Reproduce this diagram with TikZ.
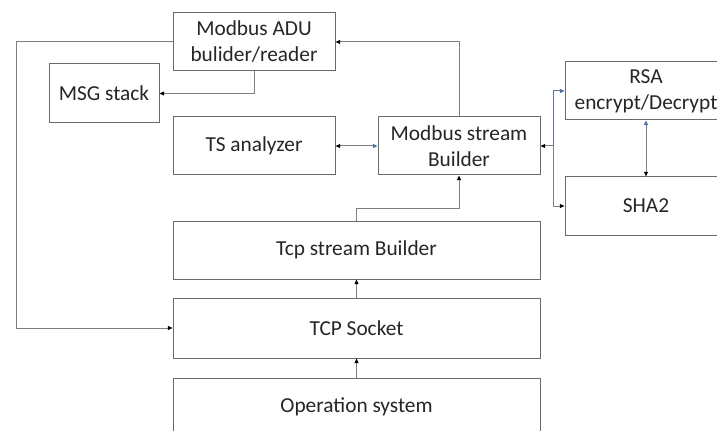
\documentclass[tikz,border=0pt]{standalone}
\usepackage{fontspec}
\setmainfont{Carlito}
\usetikzlibrary{arrows.meta}
\definecolor{edge}{HTML}{7F7F7F}
\definecolor{frame}{HTML}{6A6A6A}
\definecolor{tipblue}{HTML}{4A6FA5}
\definecolor{ink}{HTML}{262626}
\begin{document}
\begin{tikzpicture}[x=0.75pt,y=-0.75pt,
  blk/.style={draw=frame, line width=0.75pt, rectangle, minimum width=121.5pt,
    minimum height=43.5pt, align=center, inner sep=0pt, text=ink,
    font=\fontsize{16}{19.5}\selectfont},
  wide/.style={blk, minimum width=275.25pt},
  link/.style={draw=edge, line width=0.75pt},
  tipk/.style={-{Triangle[length=3.5pt,width=3pt,color=black]}},
  tipb/.style={-{Triangle[length=3.5pt,width=3pt,color=tipblue]}},
  both/.style={{Triangle[length=3.5pt,width=3pt,color=black]}-{Triangle[length=3.5pt,width=3pt,color=tipblue]}}
]
\fill[white] (0,0) rectangle (717,431);
\clip (0,0) rectangle (717,431);

% blocks
\node[blk] (adu) at (254,42) {Modbus ADU\\bulider/reader};
\node[blk, minimum width=82.5pt, minimum height=44.25pt] (msg) at (104,93.5) {MSG stack};
\node[blk] (ts) at (254,146) {TS analyzer};
\node[blk] (msb) at (459,146) {Modbus stream\\Builder};
\node[blk] (rsa) at (646,91) {RSA\\encrypt/Decrypt};
\node[blk] (sha) at (646,206) {SHA2};
\node[wide] (tcpb) at (356.5,250) {Tcp stream Builder};
\node[wide, minimum height=45pt] (sock) at (356.5,328) {TCP Socket};
\node[wide] (os) at (356.5,407) {Operation system};

% routing points
\coordinate (lx) at (16,42);
\coordinate (hub) at (553,146);

% connectors
\draw[link, tipk] (adu.west) -- (lx) |- (sock.west);
\draw[link, tipk] (adu.south) |- (msg.east);
\draw[link, tipk] (msb.north) |- (adu.east);
\draw[link, both] (ts.east) -- (msb.west);
\draw[link, tipk] (hub) -- (msb.east);
\draw[link, draw=tipblue!60!edge, tipb] (hub) |- (rsa.west);
\draw[link, tipk] (hub) |- (sha.west);
\draw[link, both] (sha.north) -- (rsa.south);
\draw[link, tipk] (tcpb.north) -- ++(0,-12) -| (msb.south);
\draw[link, tipk] (sock.north) -- (tcpb.south);
\draw[link, tipk] (os.north) -- (sock.south);
\end{tikzpicture}
\end{document}
